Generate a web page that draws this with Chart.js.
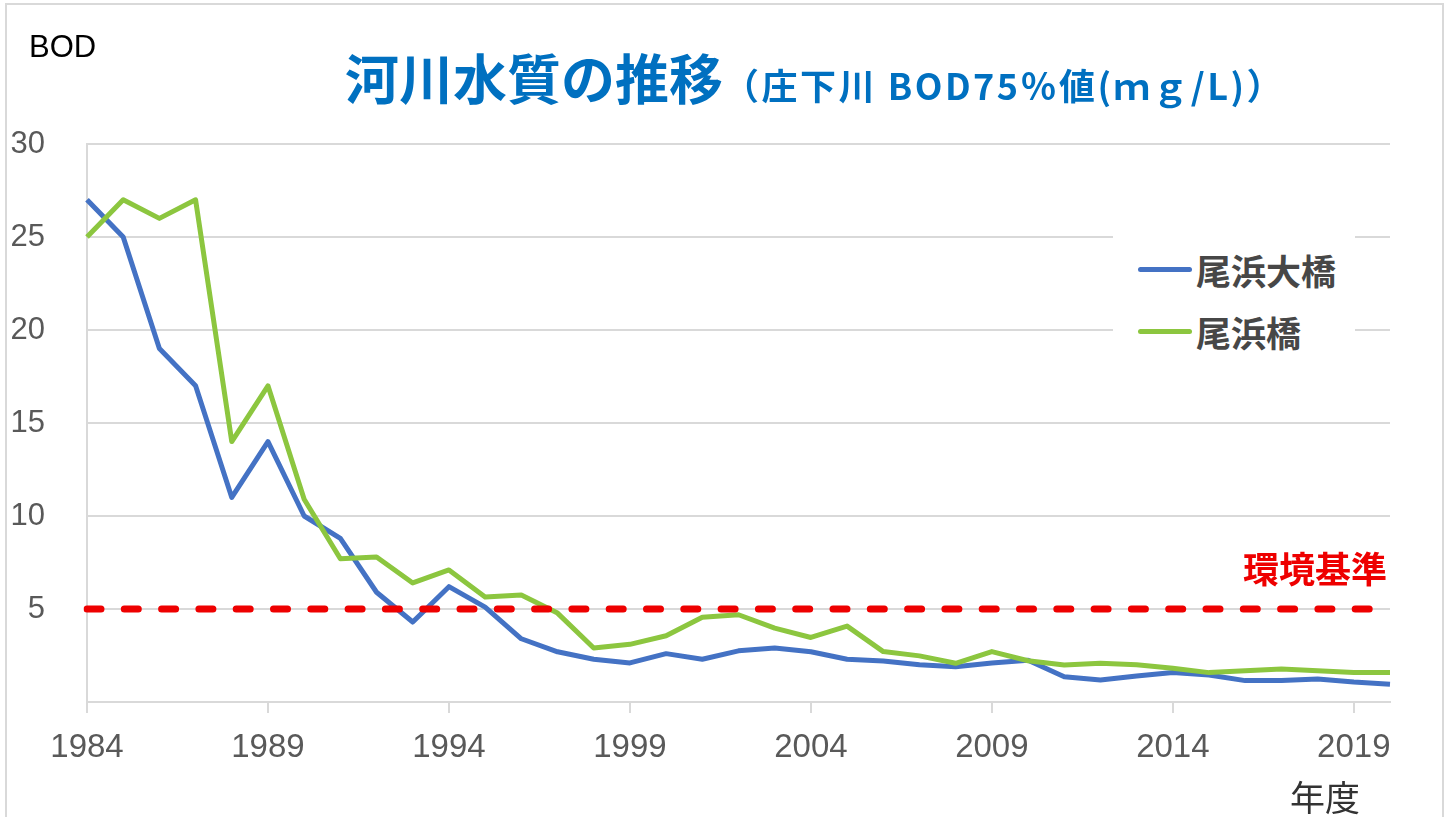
<!DOCTYPE html>
<html><head><meta charset="utf-8">
<script src="https://cdn.jsdelivr.net/npm/chart.js@4.4.1/dist/chart.umd.min.js"></script>
<style>
html,body{margin:0;padding:0;background:#fff;}
#wrap{position:relative;width:1453px;height:817px;overflow:hidden;background:#fff;}
#frame{position:absolute;left:5px;top:3px;width:1439px;height:840px;border:2px solid #d9d9d9;box-sizing:border-box;}
canvas{position:absolute;left:0;top:0;}
.t{position:absolute;white-space:nowrap;line-height:1;}
#bod{left:29px;top:31px;font-family:"Liberation Sans",Arial,sans-serif;font-size:31px;color:#000;}
#title{left:345px;top:50px;font-family:"Noto Sans CJK JP",sans-serif;font-weight:bold;color:#0070c0;}
#title .main{font-size:54px;}
#title .sub{font-size:36px;letter-spacing:2.5px;}
#legend{position:absolute;left:1113px;top:226px;width:242px;height:134px;background:#fff;}
.li{position:absolute;left:0;height:40px;width:242px;}
.li .sw{position:absolute;left:25px;top:17px;width:54px;height:5px;border-radius:3px;}
.li .lb{position:absolute;left:83px;top:2px;font-family:"Noto Sans CJK JP",sans-serif;font-weight:bold;font-size:35px;line-height:1;color:#474747;white-space:nowrap;}
#std{left:1243px;top:549px;font-family:"Noto Sans CJK JP",sans-serif;font-weight:bold;font-size:36px;color:#ee0000;}
#nendo{left:1290px;top:778px;font-family:"Noto Sans CJK JP",sans-serif;font-size:35px;color:#333;}
</style></head><body>
<div id="wrap">
<div id="frame"></div>
<canvas id="c" width="1453" height="817"></canvas>
<div class="t" id="bod">BOD</div>
<div class="t" id="title"><span class="main">河川水質の推移</span><span class="sub">（庄下川 BOD75％値(ｍｇ/L)）</span></div>
<div id="legend"></div>
<div class="t" id="std">環境基準</div>
<div class="t" id="nendo">年度</div>
</div>
<script>
// ---- data ----
const years = ['1984','1985','1986','1987','1988','1989','1990','1991','1992','1993',
  '1994','1995','1996','1997','1998','1999','2000','2001','2002','2003','2004','2005',
  '2006','2007','2008','2009','2010','2011','2012','2013','2014','2015','2016','2017',
  '2018','2019','2020'];
const ohamaOhashi = [27,25,19,17,11,14,10,8.8,5.9,4.3,
  6.2,5.1,3.4,2.7,2.3,2.1,2.6,2.3,2.75,2.9,2.7,2.3,
  2.2,2.0,1.9,2.1,2.25,1.36,1.18,1.4,1.58,1.45,1.15,1.15,
  1.24,1.07,0.95];
const ohamaBashi = [25,27,26,27,14,17,10.9,7.7,7.8,6.4,
  7.1,5.64,5.75,4.78,2.9,3.1,3.56,4.56,4.69,3.97,3.47,4.08,
  2.71,2.48,2.08,2.71,2.22,1.99,2.08,2.0,1.81,1.58,1.68,1.78,
  1.68,1.58,1.58];
const standardValue = 5;
const seriesNames = ['尾浜大橋','尾浜橋'];
const seriesColors = ['#4472c4','#8cc63f'];
const yMin = 0, yMax = 30, yStep = 5;
const xLabelEvery = 5;

const ctx = document.getElementById('c').getContext('2d');
const chart = new Chart(ctx, {
  type: 'line',
  data: {
    labels: years,
    datasets: [
      {label:'環境基準', data:[{x:years[0],y:standardValue},{x:years[years.length-1],y:standardValue}],
       borderColor:'#ee0000', borderWidth:7, borderDash:[14,23.3], borderCapStyle:'round',
       pointRadius:0, tension:0, fill:false, order:0},
      {label:seriesNames[1], data:ohamaBashi, borderColor:seriesColors[1], borderWidth:5,
       pointRadius:0, tension:0, fill:false, order:1, borderJoinStyle:'round'},
      {label:seriesNames[0], data:ohamaOhashi, borderColor:seriesColors[0], borderWidth:5,
       pointRadius:0, tension:0, fill:false, order:2, borderJoinStyle:'round'}
    ]
  },
  options: {
    responsive:false, animation:false, devicePixelRatio:1,
    layout:{padding:{top:144,right:63,bottom:0,left:0}},
    plugins:{legend:{display:false}, title:{display:false}, tooltip:{enabled:false}},
    scales:{
      x:{
        type:'category', offset:false,
        afterFit(s){ s.height = 115; },
        grid:{drawOnChartArea:false, drawTicks:true, tickLength:11, lineWidth:2,
          color:(c)=> (c.index % xLabelEvery === 0 ? '#d9d9d9' : 'rgba(0,0,0,0)')},
        border:{display:true, color:'#d9d9d9', width:2},
        ticks:{autoSkip:false, maxRotation:0, minRotation:0, padding:15, color:'#595959',
          font:{family:'"Liberation Sans", Arial, sans-serif', size:33},
          callback:(v,i)=> (i % xLabelEvery === 0 ? years[i] : '')}
      },
      y:{
        min:yMin, max:yMax,
        afterFit(s){ s.width = 87; },
        grid:{color:'#d9d9d9', lineWidth:2, drawTicks:false},
        border:{display:true, color:'#d9d9d9', width:2},
        ticks:{stepSize:yStep, padding:42, color:'#595959',
          font:{family:'"Liberation Sans", Arial, sans-serif', size:31},
          callback:(v)=> (v === 0 ? '' : v)}
      }
    }
  }
});

// HTML legend built from the chart's own datasets
const lg = document.getElementById('legend');
[2,1].forEach((di,k)=>{
  const ds = chart.data.datasets[di];
  const it = document.createElement('div');
  it.className='li'; it.style.top = (24 + k*62) + 'px';
  it.innerHTML = '<div class="sw" style="background:'+ds.borderColor+'"></div><div class="lb">'+ds.label+'</div>';
  lg.appendChild(it);
});
</script>
</body></html>
